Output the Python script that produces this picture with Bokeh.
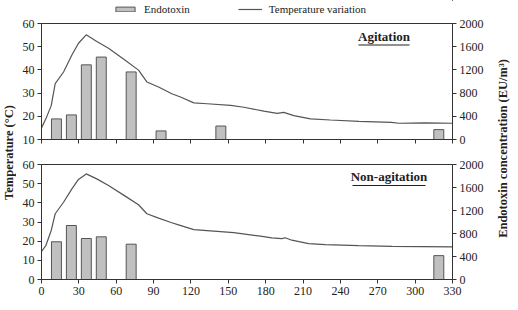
import math
from bokeh.plotting import figure
from bokeh.models import (Range1d, LinearAxis, FixedTicker, Label, Legend, LegendItem,
                          BoxAnnotation)
from bokeh.layouts import row, column
from bokeh.embed import file_html
from bokeh.resources import INLINE

# ---------------- data ----------------
x_ticks = [0, 30, 60, 90, 120, 150, 180, 210, 240, 270, 300, 330]
temp_ticks_top = [10, 20, 30, 40, 50, 60]
temp_ticks_bot = [0, 10, 20, 30, 40, 50, 60]
endo_ticks = [0, 400, 800, 1200, 1600, 2000]

# Agitation panel
agit_bar_time = [12, 24, 36, 48, 72, 96, 144, 319]
agit_endotoxin = [355, 424, 1287, 1421, 1165, 148, 232, 170]
agit_time = [0, 3.5, 7.8, 11, 17.7, 24.4, 29.7, 35.9, 44.4, 53.8, 67.2, 77.9, 84.6, 94,
             104.6, 111.6, 122.3, 133, 151.8, 162.5, 178.5, 189.2, 194.5, 202.6, 216, 232,
             255, 281, 287, 308, 330]
agit_temp = [15.0, 18.9, 24.6, 34.1, 39.1, 46.4, 51.5, 55.1, 52.2, 49.3, 44.2, 39.9, 34.8, 32.6,
             29.7, 28.3, 25.8, 25.4, 24.7, 23.9, 22.2, 21.3, 21.7, 20.3, 18.9, 18.4,
             17.8, 17.4, 17.0, 17.2, 17.0]

# Non-agitation panel
non_bar_time = [12, 24, 36, 48, 72, 319]
non_endotoxin = [656, 939, 713, 742, 614, 415]
non_time = [0, 3.5, 7.8, 11, 17.7, 24.4, 29.7, 35.9, 44.4, 53.8, 67.2, 77.9, 84.6, 94,
            104.6, 110, 122.3, 133, 154.4, 175.8, 184.9, 192.9, 195.7, 201, 214.5, 227.9,
            254.7, 281.5, 329.6]
non_temp = [14.6, 17.7, 25.6, 34.3, 40.3, 47.3, 52.2, 55.1, 52.5, 49.0, 43.5, 39.0, 34.3, 32.0,
            29.6, 28.5, 26.0, 25.5, 24.5, 22.6, 21.7, 21.3, 21.8, 20.5, 18.7, 18.2,
            17.7, 17.3, 17.0]

legend_labels = ["Endotoxin", "Temperature variation"]

FONT = "Liberation Serif"
AX = "#333333"
TXT = "#222222"
BAR_FILL = "#c0c0c0"
BAR_LINE = "#555555"
LINE_C = "#555555"


def style_axis(ax, ticks):
    ax.ticker = FixedTicker(ticks=ticks)
    ax.axis_line_color = AX
    ax.major_tick_line_color = AX
    ax.minor_tick_line_color = None
    ax.major_tick_out = 4
    ax.major_tick_in = 0
    ax.major_label_standoff = 3
    ax.major_label_text_font = FONT
    ax.major_label_text_font_size = "12px"
    ax.major_label_text_color = TXT


def panel(height, border_top, border_bottom, temp_range, temp_ticks, bar_t, bar_v, line_t,
          line_v, show_x_labels):
    p = figure(width=474, height=height, output_backend="svg", toolbar_location=None,
               x_range=Range1d(0, 330), y_range=Range1d(*temp_range),
               min_border_left=25, min_border_right=38,
               min_border_top=border_top, min_border_bottom=border_bottom)
    p.extra_y_ranges = {"endo": Range1d(0, 2000)}
    p.xgrid.visible = False
    p.ygrid.visible = False
    p.outline_line_color = AX
    p.background_fill_color = "white"
    p.border_fill_color = "white"
    style_axis(p.xaxis[0], x_ticks)
    style_axis(p.yaxis[0], temp_ticks)
    if not show_x_labels:
        p.xaxis[0].major_label_overrides = {t: "" for t in x_ticks}
        p.xaxis[0].major_label_standoff = 0
        p.xaxis[0].major_label_text_font_size = "6px"
    rax = LinearAxis(y_range_name="endo")
    style_axis(rax, endo_ticks)
    p.add_layout(rax, "right")
    p.vbar(x=bar_t, top=bar_v, bottom=0, width=8, y_range_name="endo",
           fill_color=BAR_FILL, line_color=BAR_LINE, line_width=1)
    p.line(line_t, line_v, line_color=LINE_C, line_width=1.2)
    return p


top = panel(134, 5, 13, (10, 60), temp_ticks_top, agit_bar_time,
            agit_endotoxin, agit_time, agit_temp, False)
bot = panel(158, 12, 31, (0, 60), temp_ticks_bot, non_bar_time,
            non_endotoxin, non_time, non_temp, True)

# panel captions (underlined)
top.add_layout(Label(x=275, y=54.4, text="Agitation", text_align="center",
                     text_baseline="middle", text_font=FONT, text_font_size="13px",
                     text_font_style="bold", text_color=TXT))
top.add_layout(BoxAnnotation(left=254.5, right=295.5, bottom=50.5, top=50.95,
                             fill_color=TXT, fill_alpha=1, line_color=None))
bot.add_layout(Label(x=279, y=53.5, text="Non-agitation", text_align="center",
                     text_baseline="middle", text_font=FONT, text_font_size="13px",
                     text_font_style="bold", text_color=TXT))
bot.add_layout(BoxAnnotation(left=249.7, right=308.3, bottom=48.8, top=49.3,
                             fill_color=TXT, fill_alpha=1, line_color=None))

# x-axis title
bot.add_layout(Label(x=165, y=-15.6, text="Time (h)", text_align="center",
                     text_baseline="bottom", text_font=FONT, text_font_size="12px",
                     text_font_style="bold", text_color=TXT))

# legend strip above the top panel (renderers lie outside this strip's view)
leg = figure(width=474, height=18, output_backend="svg", toolbar_location=None,
             x_range=Range1d(-2, -1), y_range=Range1d(-2, -1),
             min_border_left=0, min_border_right=0, min_border_top=0, min_border_bottom=0)
leg.axis.visible = False
leg.grid.visible = False
leg.outline_line_color = None
r_bar = leg.vbar(x=agit_bar_time, top=agit_endotoxin, bottom=0, width=8,
                 fill_color=BAR_FILL, line_color=BAR_LINE, line_width=1)
r_line = leg.line(agit_time, agit_temp, line_color=LINE_C, line_width=1.2)
legend = Legend(items=[LegendItem(label=legend_labels[0], renderers=[r_bar]),
                       LegendItem(label=legend_labels[1], renderers=[r_line])],
                location=(72, 3), orientation="horizontal", spacing=48,
                glyph_width=24, glyph_height=6, label_height=12, label_standoff=7,
                label_text_font=FONT, label_text_font_size="11px", label_text_color=TXT,
                padding=0, margin=0, border_line_color=None, background_fill_alpha=0)
leg.add_layout(legend, "center")


def title_fig(width, text, xfrac, yfrac):
    f = figure(width=width, height=310, output_backend="svg", toolbar_location=None,
               x_range=Range1d(0, 1), y_range=Range1d(0, 1),
               min_border_left=0, min_border_right=0,
               min_border_top=0, min_border_bottom=0)
    f.axis.visible = False
    f.grid.visible = False
    f.outline_line_color = None
    f.add_layout(Label(x=xfrac, y=yfrac, text=text, angle=math.pi / 2,
                       text_align="center", text_baseline="middle", text_font=FONT,
                       text_font_size="12.5px", text_font_style="bold", text_color=TXT))
    return f


left_title = title_fig(16, "Temperature (°C)", 0.5, 1 - 152 / 310)
right_title = title_fig(28, "Endotoxin concentration (EU/m³)", 0.43, 1 - 148 / 310)

layout = row(left_title, column(leg, top, bot, spacing=0), right_title, spacing=0)

open("out.html", "w").write(file_html(layout, INLINE))
